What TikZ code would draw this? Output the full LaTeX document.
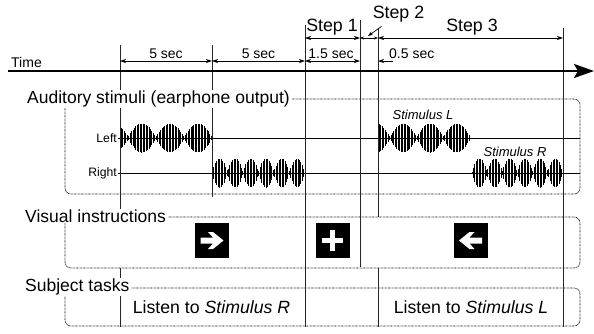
\documentclass[tikz,border=0pt]{standalone}
\usepackage{fontspec}
\setmainfont{Liberation Sans}
\usetikzlibrary{arrows.meta}
\newcommand\mywave[5]{%
  \pgfmathsetmacro\xsec{#1+1.45}%
  \foreach \x in {#1,\xsec,...,#2}{%
    \pgfmathsetmacro\amp{14.5*(0.1+0.9*abs(sin((180/#5)*(\x-#4))))}%
    \draw[wavestyle] (\x,{#3-\amp}) -- (\x,{#3+\amp});}}
\begin{document}
\begin{tikzpicture}[x=1pt,y=-1pt,
  vline/.style={line width=1pt, black!85},
  tipa/.tip={Stealth[length=6pt,width=4pt]},
  dimarrow/.style={line width=0.7pt, tipa-tipa},
  boxstyle/.style={line width=0.7pt, dash pattern=on 0.7pt off 0.7pt, rounded corners=6pt},
  sigline/.style={line width=0.9pt},
  wavestyle/.style={line width=0.95pt},
  lab/.style={font=\fontsize{17.5}{20}\selectfont, fill=white, inner xsep=2pt, inner ysep=1pt, anchor=west},
  small/.style={font=\fontsize{14}{16}\selectfont, inner sep=0pt},
  steplab/.style={font=\fontsize{17.8}{20}\selectfont, inner sep=0pt, anchor=base},
  sq/.style={fill=black, minimum width=34pt, minimum height=35pt, inner sep=0pt},
]
\useasboundingbox (0,0) rectangle (594,333);

% boxes
\draw[boxstyle] (65,99) rectangle (580,194);
\draw[boxstyle] (65,217) rectangle (580,268);
\draw[boxstyle] (65,288) rectangle (580,326);

% signal lines
\draw[sigline] (118,138) -- (580,138);
\draw[sigline] (118,173) -- (580,173);

% waveforms
\mywave{120}{212}{138}{100}{28}
\mywave{212.5}{305}{173}{212}{15.5}
\mywave{378}{470}{138}{390}{26.7}
\mywave{472}{563}{173}{472}{15.17}

% time marks
\coordinate (m1) at (120,0);
\coordinate (m2) at (212,0);
\coordinate (m3) at (305,0);
\coordinate (m4) at (360,0);
\coordinate (m5) at (378,0);
\coordinate (m6) at (563,0);

\draw[vline] (120,45) -- (120,210);
\draw[vline] (120,268) -- (120,327);
\draw[vline] (212,45) -- (212,197);
\draw[vline] (305,25) -- (305,327);
\draw[vline] (360,20) -- (360,267);
\draw[vline] (378,28) -- (378,217);
\draw[vline] (378,268) -- (378,327);
\draw[vline] (563,28) -- (563,327);

% time axis
\node[small, anchor=base west] (time) at (11,67) {Time};
\coordinate (ax0) at (8,71);
\coordinate (ax1) at (594,71);
\draw[line width=2.6pt, -{Stealth[length=20pt,width=14pt,inset=4pt]}] (ax0) -- (ax1);

% duration arrows
\draw[dimarrow] (120,61) -- (212,61);
\draw[dimarrow] (212,61) -- (305,61);
\draw[dimarrow] (305,61) -- (360,61);
\draw[line width=0.7pt, -tipa] (393,61) -- (378,61);
\node[small, anchor=base] (s1) at (166,58.5) {5 sec};
\node[small, anchor=base] (s2) at (258.5,58.5) {5 sec};
\node[small, anchor=base] (s3) at (331,58.5) {1.5 sec};
\node[small, anchor=base west] (s4) at (389,58.5) {0.5 sec};

% steps
\draw[dimarrow] (305,38) -- (360,38);
\draw[line width=0.7pt, {Stealth[length=4pt,width=3pt]}-{Stealth[length=4pt,width=3pt]}] (360,38) -- (378,38);
\draw[dimarrow] (378,38) -- (563,38);
\node[steplab] (st1) at (332,31) {Step 1};
\node[steplab] (st2) at (398.5,18.5) {Step 2};
\node[steplab] (st3) at (472,31) {Step 3};
\coordinate (st2tip) at (368,36);
\draw[line width=0.7pt, -{Stealth[length=5pt,width=3.5pt]}] (st2.south west) ++(9,4) -- (st2tip);

% section labels
\node[lab] (aud) at (25,99) {Auditory stimuli (earphone output)};
\node[lab] (vis) at (23,216) {Visual instructions};
\node[lab] (sub) at (23,287) {Subject tasks};

\node[font=\fontsize{12.2}{14}\selectfont, anchor=east, inner sep=0pt] (lft) at (117,138) {Left};
\node[font=\fontsize{12.2}{14}\selectfont, anchor=east, inner sep=0pt] (rgt) at (117,173) {Right};
\node[font=\fontsize{13}{15}\selectfont\itshape, inner sep=0pt] (stl) at (423,115) {Stimulus L};
\node[font=\fontsize{13}{15}\selectfont\itshape, inner sep=0pt] (str) at (515,152) {Stimulus R};

% visual instructions
\node[sq] (vr) at (212,240.5) {};
\node[sq] (vp) at (332.5,240.5) {};
\node[sq] (vl) at (470.5,240.5) {};
\fill[white, shift={(vr.center)}] (-11.5,3) -- (1,3) -- (-4,8.5) -- (1,8.5) -- (11.5,0) -- (1,-8.5) -- (-4,-8.5) -- (1,-3) -- (-11.5,-3) -- cycle;
\fill[white, shift={(vl.center)}, xscale=-1] (-11.5,3) -- (1,3) -- (-4,8.5) -- (1,8.5) -- (11.5,0) -- (1,-8.5) -- (-4,-8.5) -- (1,-3) -- (-11.5,-3) -- cycle;
\fill[white, shift={(vp.center)}] (-10.5,-2.8) rectangle (10.5,2.8);
\fill[white, shift={(vp.center)}] (-2.8,-10.5) rectangle (2.8,10.5);

% tasks
\node[font=\fontsize{17.7}{20}\selectfont, inner sep=0pt] (tr) at (211.5,307) {Listen to \textit{Stimulus R}};
\node[font=\fontsize{17.7}{20}\selectfont, inner sep=0pt] (tl) at (471,307) {Listen to \textit{Stimulus L}};
\end{tikzpicture}
\end{document}
